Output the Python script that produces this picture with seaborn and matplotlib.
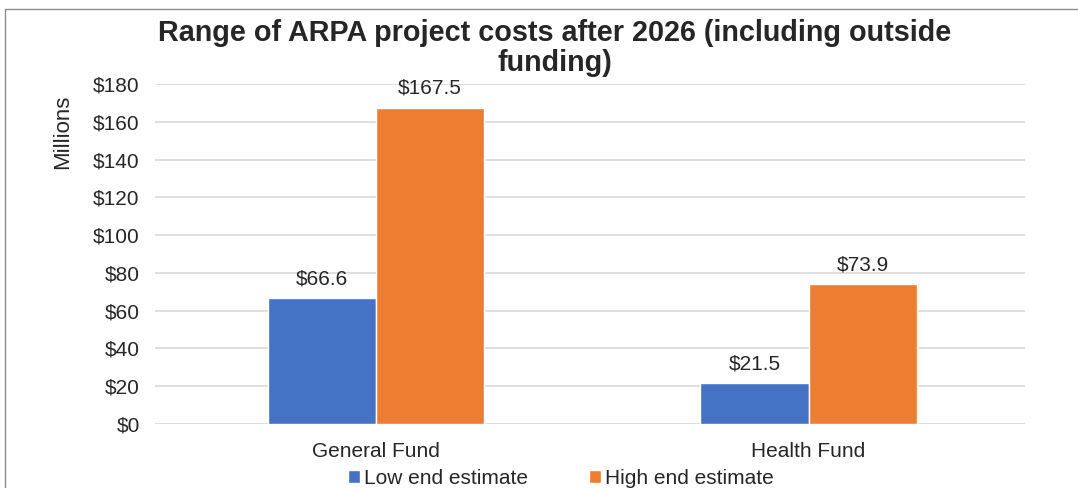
import matplotlib.pyplot as plt
import matplotlib.lines as mlines
import seaborn as sns
import pandas as pd

# datos (millones de dolares)
fondos = ["General Fund", "Health Fund"]
estimacion_baja = [66.6, 21.5]
estimacion_alta = [167.5, 73.9]
series = ["Low end estimate", "High end estimate"]
colores = ["#4472C4", "#ED7D31"]
ticks_y = [0, 20, 40, 60, 80, 100, 120, 140, 160, 180]

df = pd.DataFrame({
    "fondo": fondos * 2,
    "serie": [series[0]] * len(fondos) + [series[1]] * len(fondos),
    "valor": estimacion_baja + estimacion_alta,
})

sns.set_style("white")
plt.rcParams["font.family"] = ["Liberation Sans", "DejaVu Sans"]
texto = "#262626"

fig = plt.figure(figsize=(10.78, 4.88), dpi=100)
ax = fig.add_axes([155 / 1078, 1 - 424 / 488, 870 / 1078, 340 / 488])

sns.barplot(data=df, x="fondo", y="valor", hue="serie", hue_order=series,
            palette=colores, width=0.5, saturation=1, ax=ax, legend=True)

for cont in ax.containers:
    ax.bar_label(cont, labels=[f"${v:.1f}" for v in cont.datavalues],
                 padding=7, fontsize=15, color=texto)

ax.set_ylim(0, 180)
ax.set_xlim(-0.51, 1.5)
ax.set_yticks(ticks_y)
ax.set_yticklabels([f"${t}" for t in ticks_y], fontsize=15, color=texto)
ax.tick_params(axis="x", labelsize=15, labelcolor=texto, pad=13, length=0)
ax.tick_params(axis="y", length=0, pad=11)
ax.yaxis.grid(True, color="#d9d9d9", linewidth=1.2)
ax.set_axisbelow(True)
for s in ax.spines.values():
    s.set_visible(False)
ax.set_xlabel("")
ax.set_ylabel("")

fig.text(63 / 1078, 1 - 132 / 488, "Millions", rotation=90, ha="center",
         va="center", fontsize=16, color=texto)

ax.legend(loc="center", bbox_to_anchor=(561 / 1078, 1 - 478 / 488),
          bbox_transform=fig.transFigure, ncol=2, frameon=False,
          fontsize=15, handlelength=0.58, handleheight=0.58,
          handletextpad=0.2, columnspacing=2.9, labelcolor=texto)

fig.text(555 / 1078, 1 - 48 / 488,
         "Range of ARPA project costs after 2026 (including outside\nfunding)",
         ha="center", va="center", fontsize=20.7, fontweight="bold",
         color=texto, linespacing=1.12)

# marco del grafico (solo arriba e izquierda visibles)
fig.add_artist(mlines.Line2D([5 / 1078, 1], [1 - 9 / 488, 1 - 9 / 488],
                             transform=fig.transFigure, color="#8c8c8c", lw=1))
fig.add_artist(mlines.Line2D([5 / 1078, 5 / 1078], [0, 1 - 9 / 488],
                             transform=fig.transFigure, color="#8c8c8c", lw=1))

fig.savefig("out.png", dpi=100, facecolor="white")
